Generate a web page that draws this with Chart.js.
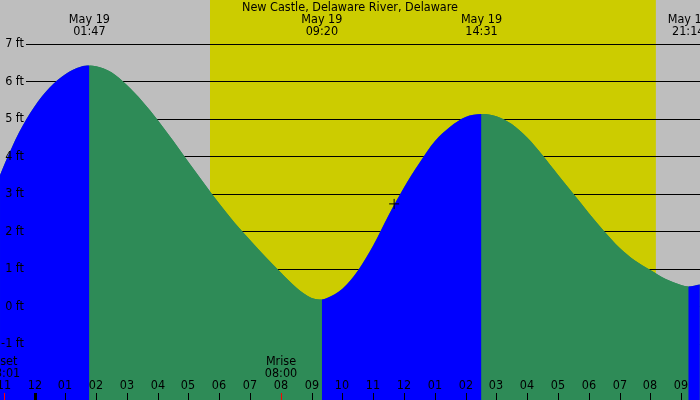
<!DOCTYPE html>
<html>
<head>
<meta charset="utf-8">
<script src="https://cdn.jsdelivr.net/npm/chart.js@4/dist/chart.umd.min.js"></script>
<style>
  html, body { margin: 0; padding: 0; background: #fff; }
  #chart-wrap { width: 700px; height: 400px; }
</style>
</head>
<body>
<div id="chart-wrap"><canvas id="tide-chart" width="700" height="400"></canvas></div>
<script>
// hours since midnight May 19 and water level in ft
const tideHours = [-1.12, -1.0, -0.5, 0.0, 0.5, 1.0, 1.5, 1.783,
  2.0, 2.5, 3.0, 3.5, 4.0, 4.5, 5.0, 5.5, 6.0, 6.5, 7.0, 7.5, 8.0, 8.5, 9.0, 9.333,
  9.5, 10.0, 10.5, 11.0, 11.5, 12.0, 12.5, 13.0, 13.5, 14.0, 14.517,
  15.0, 15.5, 16.0, 16.5, 17.0, 17.5, 18.0, 18.5, 19.0, 19.5, 20.0, 20.5, 21.0, 21.233, 21.61];
const tideFeet = [3.50, 3.74, 4.64, 5.33, 5.84, 6.19, 6.39, 6.42,
  6.40, 6.24, 5.90, 5.47, 4.97, 4.42, 3.85, 3.29, 2.74, 2.23, 1.77, 1.32, 0.90, 0.50, 0.22, 0.18,
  0.22, 0.47, 0.95, 1.62, 2.43, 3.17, 3.82, 4.40, 4.79, 5.05, 5.13,
  5.07, 4.86, 4.50, 4.03, 3.51, 3.00, 2.49, 2.00, 1.56, 1.22, 0.97, 0.73, 0.57, 0.53, 0.58];

const extremeHours = [1.783, 9.333, 14.517, 21.233];
const extremeTimes = ['01:47', '09:20', '14:31', '21:14'];
const extremeDate = 'May 19';

const daylight = [5.70, 20.18]; // sunrise, sunset

const moonHours = [-0.983, 8.0];
const moonNames = ['Mset', 'Mrise'];
const moonTimes = ['23:01', '08:00'];

const hourTicks = [-1, 0, 1, 2, 3, 4, 5, 6, 7, 8, 9, 10, 11, 12, 13, 14, 15, 16, 17, 18, 19, 20, 21];
const hourLabels = ['11', '12', '01', '02', '03', '04', '05', '06', '07', '08', '09', '10',
  '11', '12', '01', '02', '03', '04', '05', '06', '07', '08', '09'];
const feetTicks = [-1, 0, 1, 2, 3, 4, 5, 6, 7];

const nowHour = [11.68];
const nowFeet = [2.73];

const TITLE = 'New Castle, Delaware River, Delaware';
const FONT = '12.5px "DejaVu Sans Condensed", "DejaVu Sans", sans-serif';
const BLUE = '#0000ff';
const GREEN = '#2e8b57';

const tideDecor = {
  id: 'tideDecor',
  beforeDraw(chart) {
    const { ctx, width, height } = chart;
    const { x, y } = chart.scales;
    ctx.save();
    ctx.fillStyle = '#bebebe';
    ctx.fillRect(0, 0, width, height);
    const x0 = x.getPixelForValue(daylight[0]);
    const x1 = x.getPixelForValue(daylight[1]);
    ctx.fillStyle = '#cccc00';
    ctx.fillRect(x0, 0, x1 - x0, height);

    ctx.strokeStyle = '#000';
    ctx.lineWidth = 1;
    ctx.beginPath();
    feetTicks.forEach(v => {
      const py = Math.round(y.getPixelForValue(v)) + 0.5;
      ctx.moveTo(26, py);
      ctx.lineTo(width, py);
    });
    ctx.stroke();
    ctx.restore();
  },
  afterDatasetsDraw(chart) {
    const { ctx, height } = chart;
    const { x, y } = chart.scales;
    ctx.save();
    ctx.font = FONT;
    ctx.fillStyle = '#000';
    ctx.textBaseline = 'middle';

    // y labels
    ctx.textAlign = 'right';
    feetTicks.forEach(v => {
      ctx.fillText(v + ' ft', 24, y.getPixelForValue(v));
    });

    // title + high/low labels
    ctx.textAlign = 'center';
    ctx.fillText(TITLE, chart.width / 2, 8);
    extremeHours.forEach((h, i) => {
      const px = x.getPixelForValue(h);
      ctx.fillText(extremeDate, px, 20);
      ctx.fillText(extremeTimes[i], px, 32);
    });

    // hour ticks and labels
    hourTicks.forEach((h, i) => {
      const px = Math.round(x.getPixelForValue(h));
      ctx.fillText(hourLabels[i], px, 386);
      const w = h === 0 ? 3 : 1;
      ctx.fillRect(px - Math.floor(w / 2), height - 7, w, 7);
    });

    // moon events
    moonHours.forEach((h, i) => {
      const px = Math.round(x.getPixelForValue(h));
      ctx.fillStyle = '#000';
      ctx.fillText(moonNames[i], px, 362);
      ctx.fillText(moonTimes[i], px, 373.5);
      ctx.fillStyle = '#ff0000';
      ctx.fillRect(px, height - 7, 1, 7);
    });
    ctx.restore();
  }
};

const rising = c => c.p1.parsed.y > c.p0.parsed.y;
const tidePoints = () => tideHours.map((h, i) => ({ x: h, y: tideFeet[i] }));

new Chart(document.getElementById('tide-chart'), {
  type: 'line',
  data: {
    datasets: [
      {
        type: 'scatter',
        data: nowHour.map((h, i) => ({ x: h, y: nowFeet[i] })),
        pointStyle: 'cross',
        pointRadius: 5,
        borderColor: '#000',
        borderWidth: 1,
      },
      {
        // rising water blue, falling water green
        data: tidePoints(),
        cubicInterpolationMode: 'monotone',
        borderWidth: 0,
        pointRadius: 0,
        fill: 'start',
        backgroundColor: GREEN,
        segment: {
          backgroundColor: c => (rising(c) ? BLUE : GREEN),
        },
      },
      {
        // plain underlay so segment seams don't show
        data: tidePoints(),
        cubicInterpolationMode: 'monotone',
        borderWidth: 0,
        pointRadius: 0,
        fill: 'start',
        backgroundColor: GREEN,
      },
    ],
  },
  options: {
    responsive: false,
    animation: false,
    layout: { padding: 0, autoPadding: false },
    plugins: {
      legend: { display: false },
      tooltip: { enabled: false },
    },
    scales: {
      x: { type: 'linear', display: false, min: -1.1205, max: 21.614 },
      y: { type: 'linear', display: false, min: -2.5, max: 8.168 },
    },
  },
  plugins: [tideDecor],
});
</script>
</body>
</html>
